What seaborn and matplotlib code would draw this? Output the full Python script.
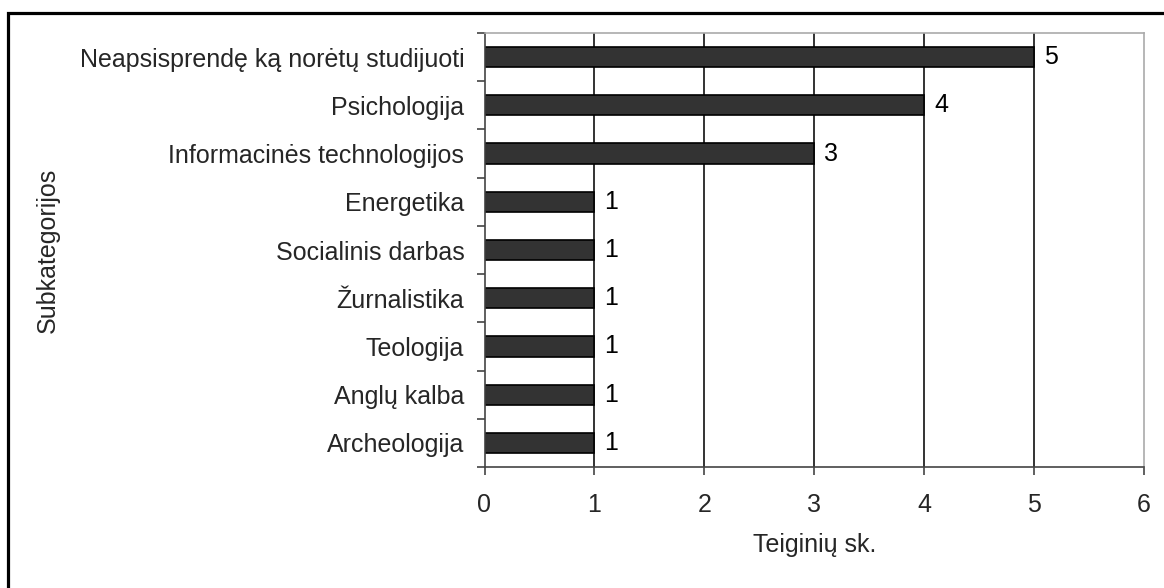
import matplotlib
matplotlib.use('Agg')
import matplotlib.pyplot as plt
import seaborn as sns
import pandas as pd
from matplotlib.patches import Rectangle

# chart data
categories = ['Neapsisprendę ką norėtų studijuoti', 'Psichologija',
              'Informacinės technologijos', 'Energetika', 'Socialinis darbas',
              'Žurnalistika', 'Teologija', 'Anglų kalba', 'Archeologija']
counts = [5, 4, 3, 1, 1, 1, 1, 1, 1]
x_ticks = [0, 1, 2, 3, 4, 5, 6]

df = pd.DataFrame({'kategorija': categories, 'sk': counts})

sns.set_style('white')
plt.rcParams['font.family'] = ['Liberation Sans', 'DejaVu Sans']
fs = 18

fig = plt.figure(figsize=(11.64, 5.88), dpi=100)
ax = fig.add_axes([484.5 / 1164, 1 - 467 / 588, (1144 - 484.5) / 1164, (467 - 33) / 588])

sns.barplot(data=df, x='sk', y='kategorija', orient='h', color='#333333',
            edgecolor='black', linewidth=1.2, width=0.42, saturation=1, ax=ax)

# value labels
for i, v in enumerate(counts):
    ax.text(v + 0.09, i, str(v), va='center', ha='left', fontsize=fs, color='black')

ax.set_xlim(0, 6)
ax.set_ylim(len(categories) - 0.5, -0.5)
ax.set_xticks(x_ticks)
ax.set_xticklabels([str(t) for t in x_ticks], fontsize=fs)
ax.tick_params(axis='x', length=6, width=1.2, color='#444444', pad=12.5, direction='out', bottom=True)
ax.set_yticks(range(len(categories)))
ax.set_yticklabels(categories, fontsize=fs)
ax.tick_params(axis='y', length=0, pad=14.5)

# y tick marks between categories
ax.set_yticks([i + 0.5 for i in range(-1, len(categories))], minor=True)
ax.tick_params(axis='y', which='minor', length=6, width=1.2, color='#444444', left=True)

# vertical gridlines
for t in x_ticks[1:-1]:
    ax.axvline(t, color='#111111', linewidth=1.2, zorder=0)

for side in ['top', 'right']:
    ax.spines[side].set_color('#aaaaaa')
    ax.spines[side].set_linewidth(1.2)
for side in ['left', 'bottom']:
    ax.spines[side].set_color('#444444')
    ax.spines[side].set_linewidth(1.2)

ax.set_xlabel('Teiginių sk.', fontsize=fs, labelpad=12)
ax.set_ylabel('')
fig.text(48 / 1164, 1 - 250 / 588, 'Subkategorijos', rotation=90, fontsize=fs,
         ha='center', va='center')

# outer frame
fig.patches.append(Rectangle((8 / 1164, -0.2), 1.2, 1.2 - 12.5 / 588, transform=fig.transFigure,
                             fill=False, edgecolor='black', linewidth=2.3))

fig.savefig('out.png', dpi=100)
